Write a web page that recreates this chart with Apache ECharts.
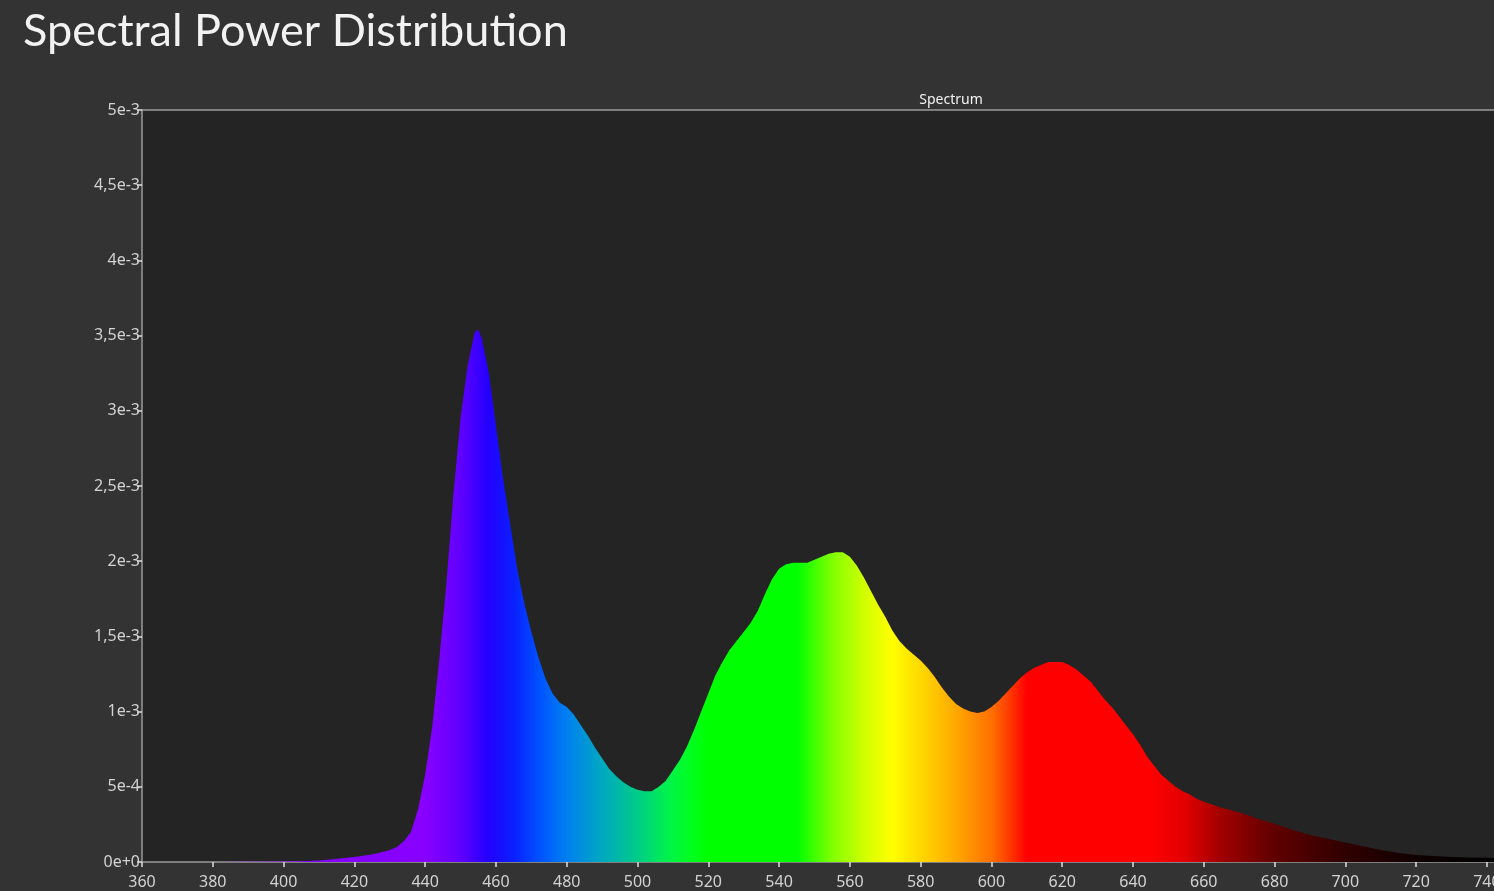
<!DOCTYPE html>
<html>
<head>
<meta charset="utf-8">
<script src="https://cdn.jsdelivr.net/npm/echarts@6/dist/echarts.min.js"></script>
<style>
  html, body { margin: 0; padding: 0; background: #333333; }
  #Chart { width: 1494px; height: 891px; }
</style>
</head>
<body>
<div id="Chart"></div>
<script>
// wavelength (nm) and spectral power (x 1e-3)
var wavelengths = [360, 370, 380, 390, 400, 405, 410, 414, 418, 422, 426, 430, 432, 434, 436, 438,
    440, 442, 444, 446, 448, 450, 452, 454, 455, 456, 458, 460, 462, 464, 466, 468, 470, 472, 474, 476, 478,
    480, 482, 484, 486, 488, 490, 492, 494, 496, 498, 500, 502, 504, 506, 508, 510, 512, 514, 516, 518,
    520, 522, 524, 526, 528, 530, 532, 534, 536, 538, 540, 542, 544, 546, 548, 550, 552, 554, 556, 558,
    560, 562, 564, 566, 568, 570, 572, 574, 576, 578, 580, 582, 584, 586, 588, 590, 592, 594, 596, 598,
    600, 602, 604, 606, 608, 610, 612, 614, 616, 618, 620, 622, 624, 626, 628, 630, 632, 634, 636, 638,
    640, 642, 644, 646, 648, 650, 652, 654, 656, 658, 660, 665, 670, 675, 680, 685, 690, 695, 700, 705,
    710, 715, 720, 725, 730, 735, 740, 742];
var power = [0, 0, 0, 0.001, 0.003, 0.005, 0.01, 0.018, 0.028, 0.04, 0.055, 0.08, 0.10, 0.14, 0.2, 0.35,
    0.58, 0.90, 1.35, 1.85, 2.45, 2.95, 3.30, 3.52, 3.54, 3.48, 3.25, 2.90, 2.55, 2.25, 1.95, 1.72, 1.53, 1.36, 1.22, 1.12, 1.06,
    1.03, 0.98, 0.91, 0.84, 0.76, 0.69, 0.62, 0.57, 0.53, 0.50, 0.48, 0.47, 0.47, 0.50, 0.54, 0.61, 0.68, 0.77, 0.88, 1.00,
    1.12, 1.24, 1.33, 1.41, 1.47, 1.53, 1.59, 1.67, 1.78, 1.88, 1.95, 1.98, 1.99, 1.99, 1.99, 2.01, 2.03, 2.05, 2.06, 2.06,
    2.03, 1.97, 1.89, 1.80, 1.71, 1.63, 1.54, 1.47, 1.42, 1.38, 1.34, 1.29, 1.23, 1.16, 1.10, 1.05, 1.02, 1.00, 0.99, 1.00,
    1.03, 1.07, 1.12, 1.17, 1.22, 1.26, 1.29, 1.31, 1.33, 1.33, 1.33, 1.31, 1.28, 1.24, 1.20, 1.14, 1.08, 1.03, 0.97, 0.91,
    0.85, 0.78, 0.70, 0.64, 0.58, 0.54, 0.50, 0.47, 0.45, 0.42, 0.40, 0.36, 0.33, 0.29, 0.255, 0.215, 0.18, 0.155, 0.13, 0.105,
    0.08, 0.06, 0.047, 0.04, 0.034, 0.03, 0.028, 0.027];
// y tick labels (axis runs 0..5 in units of 1e-3)
var yLabels = ['0e+0', '5e-4', '1e-3', '1,5e-3', '2e-3', '2,5e-3', '3e-3', '3,5e-3', '4e-3', '4,5e-3', '5e-3'];
// colour of the light at each wavelength
var colorNm = [360, 440, 450, 458, 465, 472, 480, 490, 500, 508, 515, 520, 545, 555, 565, 572,
    580, 590, 600, 606, 610, 645, 655, 665, 680, 700, 720, 742];
var colorHex = ['#7f00ff', '#8800ff', '#6000ff', '#2200ff', '#0a20ff', '#0050ff', '#0080f0', '#00a8c0',
    '#00cc88', '#00f050', '#00ff20', '#00ff00', '#00ff00', '#80ff00', '#d8ff00', '#ffff00',
    '#ffd800', '#ffa800', '#ff7000', '#ff3000', '#ff0000', '#ff0000', '#e00000', '#a00000',
    '#600000', '#300000', '#100000', '#000000'];

var xMin = 360, xMax = 742;
var seriesData = wavelengths.map(function (w, i) { return [w, power[i]]; });
var stops = colorNm.map(function (w, i) {
    return { offset: (w - xMin) / (xMax - xMin), color: colorHex[i] };
});
var axisColor = '#9a9a9a';
var labelColor = '#d2d2d2';

var myChart = echarts.init(document.getElementById('Chart'));
var option = {
    backgroundColor: '#333333',
    animation: false,
    title: [
        {
            text: 'Spectral Power Distribution',
            left: 18,
            top: 4,
            textStyle: { color: '#f2f2f2', fontSize: 45, fontWeight: 'normal', fontFamily: 'Lato' }
        },
        {
            text: 'Spectrum',
            left: 946,
            top: 88,
            textAlign: 'center',
            textStyle: { color: '#f2f2f2', fontSize: 14, fontWeight: 'normal', fontFamily: 'Noto Sans' }
        }
    ],
    grid: {
        left: 142,
        right: 0,
        top: 110,
        bottom: 29,
        outerBoundsMode: 'none',
        containLabel: false,
        show: true,
        backgroundColor: '#242424',
        borderWidth: 0
    },
    xAxis: [
        {
            type: 'value',
            min: xMin,
            max: xMax,
            interval: 20,
            axisLine: { show: true, onZero: false, lineStyle: { color: axisColor, width: 1.5 } },
            axisTick: { show: true, length: 5, lineStyle: { color: '#e0e0e0', width: 1.5 } },
            axisLabel: { color: labelColor, fontSize: 16, margin: 12, fontFamily: 'Noto Sans', showMaxLabel: false },
            splitLine: { show: false }
        },
        {
            type: 'value',
            position: 'top',
            min: xMin,
            max: xMax,
            axisLine: { show: true, onZero: false, lineStyle: { color: axisColor, width: 1.5 } },
            axisTick: { show: false },
            axisLabel: { show: false },
            splitLine: { show: false }
        }
    ],
    yAxis: {
        type: 'value',
        min: 0,
        max: 5,
        interval: 0.5,
        axisLine: { show: true, lineStyle: { color: axisColor, width: 1.5 } },
        axisTick: { show: true, length: 5, lineStyle: { color: '#e0e0e0', width: 1.5 } },
        axisLabel: {
            color: labelColor,
            fontSize: 16,
            margin: 2,
            fontFamily: 'Noto Sans',
            formatter: function (v) { return yLabels[Math.round(v * 2)]; }
        },
        splitLine: { show: false }
    },
    series: [
        {
            name: 'Spectrum',
            type: 'line',
            data: seriesData,
            symbol: 'none',
            lineStyle: { width: 0 },
            areaStyle: {
                opacity: 1,
                color: new echarts.graphic.LinearGradient(0, 0, 1, 0, stops)
            }
        }
    ]
};
myChart.setOption(option);
window.addEventListener('resize', function () {
    myChart.resize();
});
</script>
</body>
</html>
